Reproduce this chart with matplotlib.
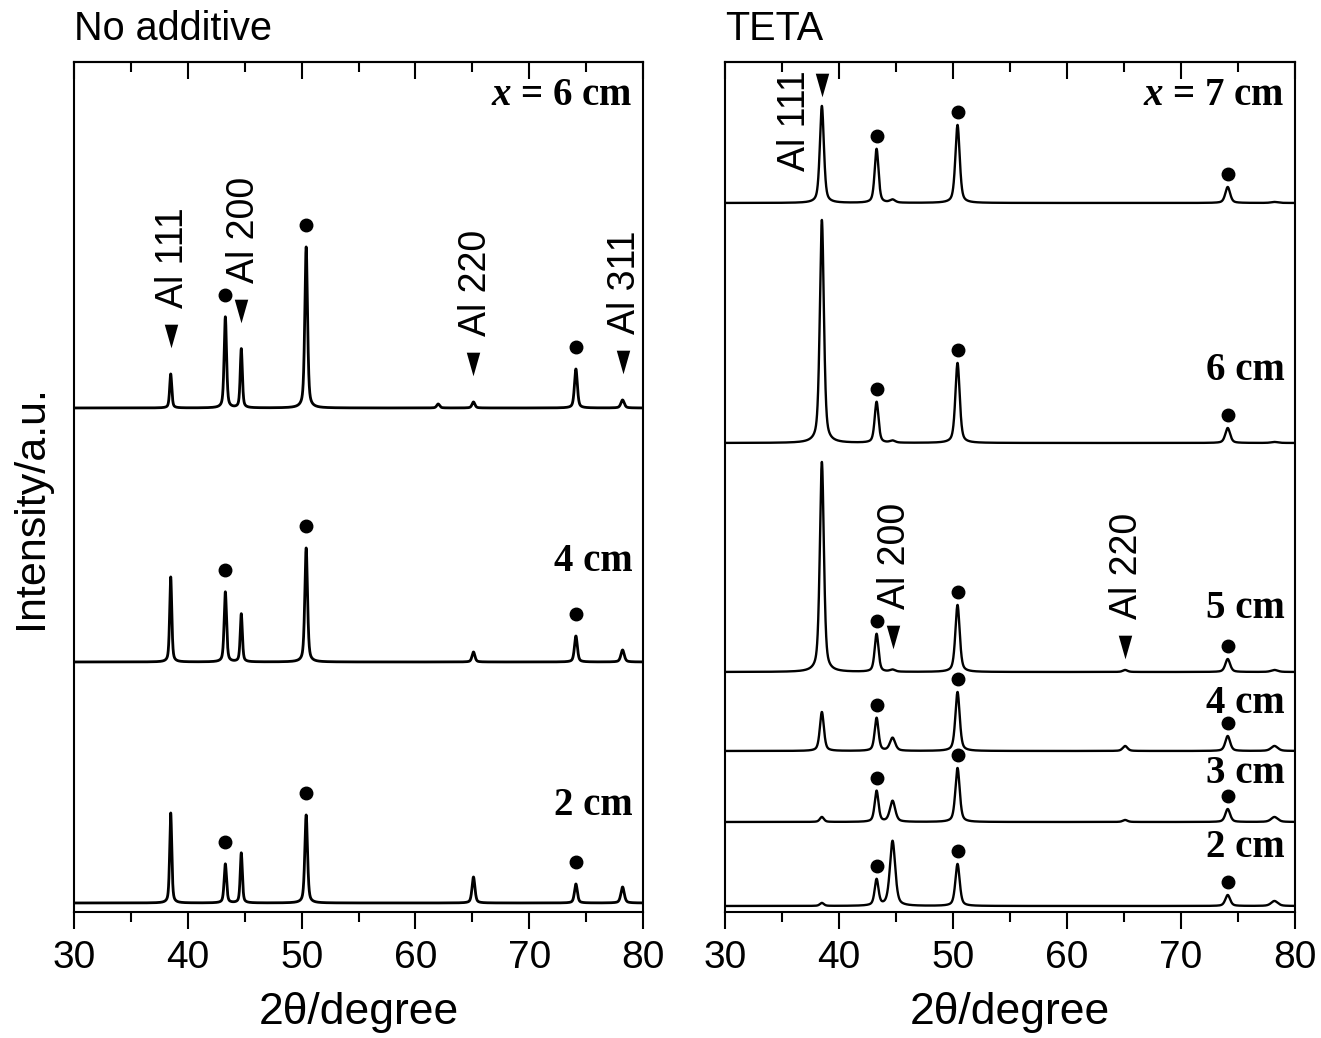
import numpy as np
import matplotlib.pyplot as plt
from matplotlib.ticker import MultipleLocator

plt.rcParams['font.family'] = ['Liberation Sans', 'DejaVu Sans']
plt.rcParams['mathtext.fontset'] = 'custom'
plt.rcParams['mathtext.it'] = 'Liberation Serif:italic:bold'
plt.rcParams['mathtext.rm'] = 'Liberation Serif:bold'

# peak positions, 2theta/degree
peaks_left = [38.5, 43.3, 44.7, 50.4, 62.0, 65.1, 74.1, 78.2]
peaks_right = [38.5, 43.3, 44.7, 50.4, 65.1, 74.1, 78.2]
fwhm_left = [0.22, 0.25, 0.22, 0.28, 0.3, 0.3, 0.3, 0.35]
fwhm_right = [0.42, 0.4, 0.55, 0.45, 0.5, 0.5, 0.7]

# No additive (offset of each trace, peak heights)
labels_left = ['$x$ = 6 cm', '4 cm', '2 cm']
offsets_left = [504, 250, 9]
heights_left = [
    [34, 91, 59, 161, 4, 6, 39, 8],
    [85, 70, 48, 114, 0, 10, 26, 12],
    [90, 39, 50, 88, 0, 26, 19, 16],
]

# TETA
labels_right = ['$x$ = 7 cm', '6 cm', '5 cm', '4 cm', '3 cm', '2 cm']
offsets_right = [709, 469, 240, 161, 90, 6]
heights_right = [
    [97, 54, 3, 78, 0, 16, 1],
    [223, 41, 2, 80, 0, 15, 1],
    [210, 38, 2, 67, 2, 13, 2],
    [39, 33, 13, 59, 5, 15, 5],
    [5, 31, 21, 54, 2, 13, 5],
    [3, 26, 65, 42, 0, 11, 5],
]

# peaks marked with a dot
dot_peaks = [43.3, 50.4, 74.1]

# Al reflections marked with a triangle: (trace, peak, text)
al_left = [(0, 38.5, 'Al 111'), (0, 44.7, 'Al 200'), (0, 65.1, 'Al 220'), (0, 78.2, 'Al 311')]
al_right = [(0, 38.5, 'Al 111'), (2, 44.7, 'Al 200'), (2, 65.1, 'Al 220')]

# layout only
label_y_left = [807, 341, 97]
label_y_right = [807, 532, 294, 199, 129, 55]
tri_gap_left = [38, 38, 38, 38]
tri_gap_right = [21, 32, 23]

x = np.linspace(30, 80, 10001)
tri = [(-0.57, 1), (0.57, 1), (0, -1)]


def pattern(peaks, fwhm, heights):
    y = np.zeros_like(x)
    for p, w, h in zip(peaks, fwhm, heights):
        d = (x - p) / w
        y += h * (0.5 * np.exp(-4 * np.log(2) * d ** 2) + 0.5 / (1 + 4 * d ** 2))
    return y


def panel(ax, peaks, fwhm, offsets, heights, labels, label_y, al, tri_gap, dot_gap, lw, title):
    tops = []
    for off, hs in zip(offsets, heights):
        y = off + pattern(peaks, fwhm, hs)
        ax.plot(x, y, color='black', lw=lw)
        tops.append({p: np.interp(p, x, y) for p in peaks})
    for i, off in enumerate(offsets):
        for p in dot_peaks:
            ax.plot(p, tops[i][p] + dot_gap, 'o', color='black', ms=9)
        ax.text(79.1, label_y[i], labels[i], ha='right', va='baseline', fontsize=28,
                family='Liberation Serif', weight='bold')
    for (i, p, txt), g in zip(al, tri_gap):
        ty = tops[i][p] + g
        ax.plot(p, ty, marker=tri, color='black', ms=17, mew=0)
        if ax.get_label() == 'right' and txt == 'Al 111':
            ax.text(p - 2.4, ty + 15, txt, rotation=90, ha='center', va='top', fontsize=27)
        else:
            ax.text(p + 0.2, ty + 28, txt, rotation=90, ha='center', va='bottom', fontsize=27)

    ax.set_xlim(30, 80)
    ax.set_ylim(0, 850)
    ax.set_yticks([])
    ax.xaxis.set_major_locator(MultipleLocator(10))
    ax.xaxis.set_minor_locator(MultipleLocator(5))
    ax.tick_params(axis='x', which='major', direction='out', length=12, width=1.5,
                   labelsize=28, pad=8)
    ax.tick_params(axis='x', which='minor', direction='out', length=7, width=1.5)
    for s in ax.spines.values():
        s.set_linewidth(1.5)
    top = ax.secondary_xaxis('top')
    top.xaxis.set_major_locator(MultipleLocator(10))
    top.xaxis.set_minor_locator(MultipleLocator(5))
    top.tick_params(axis='x', which='major', direction='in', length=12, width=1.5, labeltop=False)
    top.tick_params(axis='x', which='minor', direction='in', length=7, width=1.5)
    top.spines['top'].set_linewidth(1.5)
    ax.set_xlabel('2θ/degree', fontsize=32, labelpad=12)
    ax.text(0, 1.016, title, transform=ax.transAxes, ha='left', va='bottom', fontsize=28.5)


fig = plt.figure(figsize=(13.21, 10.38), dpi=100)
ax1 = fig.add_axes([0.056, 0.1214, 0.4308, 0.8189], label='left')
ax2 = fig.add_axes([0.5488, 0.1214, 0.4315, 0.8189], label='right')

panel(ax1, peaks_left, fwhm_left, offsets_left, heights_left, labels_left, label_y_left,
      al_left, tri_gap_left, 22, 2.0, 'No additive')
panel(ax2, peaks_right, fwhm_right, offsets_right, heights_right, labels_right, label_y_right,
      al_right, tri_gap_right, 13, 1.7, 'TETA')
ax1.set_ylabel('Intensity/a.u.', fontsize=31)
ax1.yaxis.set_label_coords(-0.04, 0.476)

fig.savefig('out.png', dpi=100)
